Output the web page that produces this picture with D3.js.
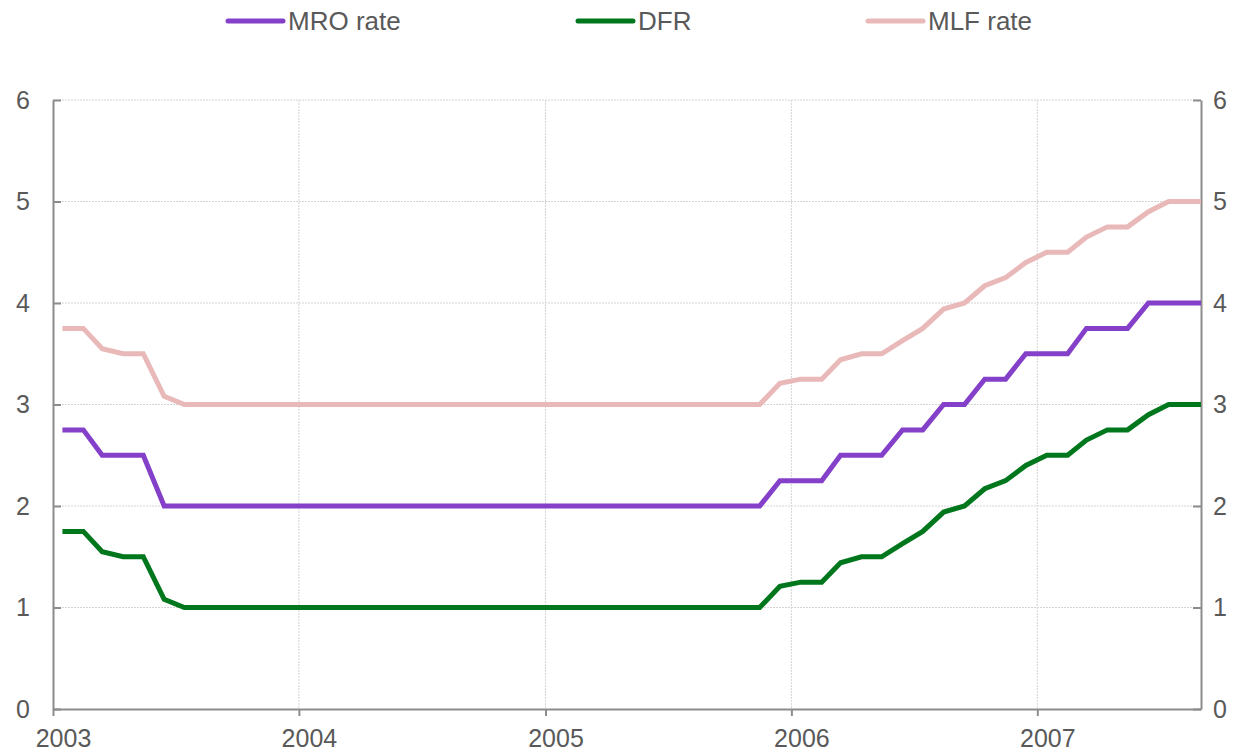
<!DOCTYPE html>
<html>
<head>
    <meta charset="utf-8">
    <title>ECB policy rates 2003-2007</title>
    <script src="https://d3js.org/d3.v7.min.js"></script>
    <style>
        body { margin: 0; padding: 0; background: #fff; }
        text { font-family: "Liberation Sans", Arial, sans-serif; fill: #595959; }
    </style>
</head>
<body>
    <svg id="svg" width="1239" height="753"></svg>

    <script>
        // Monthly averages, Jan 2003 .. Sep 2007
        const firstMonth = "2003-01";
        const mroRate = [
            2.75, 2.75, 2.50, 2.50, 2.50, 2.00, 2.00, 2.00, 2.00, 2.00, 2.00, 2.00,
            2.00, 2.00, 2.00, 2.00, 2.00, 2.00, 2.00, 2.00, 2.00, 2.00, 2.00, 2.00,
            2.00, 2.00, 2.00, 2.00, 2.00, 2.00, 2.00, 2.00, 2.00, 2.00, 2.00, 2.25,
            2.25, 2.25, 2.50, 2.50, 2.50, 2.75, 2.75, 3.00, 3.00, 3.25, 3.25, 3.50,
            3.50, 3.50, 3.75, 3.75, 3.75, 4.00, 4.00, 4.00, 4.00
        ];
        const dfrRate = [
            1.75, 1.75, 1.55, 1.50, 1.50, 1.08, 1.00, 1.00, 1.00, 1.00, 1.00, 1.00,
            1.00, 1.00, 1.00, 1.00, 1.00, 1.00, 1.00, 1.00, 1.00, 1.00, 1.00, 1.00,
            1.00, 1.00, 1.00, 1.00, 1.00, 1.00, 1.00, 1.00, 1.00, 1.00, 1.00, 1.21,
            1.25, 1.25, 1.44, 1.50, 1.50, 1.63, 1.75, 1.94, 2.00, 2.17, 2.25, 2.40,
            2.50, 2.50, 2.65, 2.75, 2.75, 2.90, 3.00, 3.00, 3.00
        ];
        const mlfRate = [
            3.75, 3.75, 3.55, 3.50, 3.50, 3.08, 3.00, 3.00, 3.00, 3.00, 3.00, 3.00,
            3.00, 3.00, 3.00, 3.00, 3.00, 3.00, 3.00, 3.00, 3.00, 3.00, 3.00, 3.00,
            3.00, 3.00, 3.00, 3.00, 3.00, 3.00, 3.00, 3.00, 3.00, 3.00, 3.00, 3.21,
            3.25, 3.25, 3.44, 3.50, 3.50, 3.63, 3.75, 3.94, 4.00, 4.17, 4.25, 4.40,
            4.50, 4.50, 4.65, 4.75, 4.75, 4.90, 5.00, 5.00, 5.00
        ];
        const yearTicks = ["2003", "2004", "2005", "2006", "2007"];
        const yTicks = [0, 1, 2, 3, 4, 5, 6];

        const series = [
            { name: "MRO rate", values: mroRate, color: "#8440c9" },
            { name: "DFR", values: dfrRate, color: "#00771c" },
            { name: "MLF rate", values: mlfRate, color: "#e8b9b8" }
        ];

        const svg = d3.select("#svg");
        const margin = { top: 100, right: 38, bottom: 44, left: 53 };
        const width = +svg.attr("width") - margin.left - margin.right;
        const height = +svg.attr("height") - margin.top - margin.bottom;

        const parseMonth = d3.utcParse("%Y-%m");
        const start = parseMonth(firstMonth);
        // points sit in the middle of each month
        const dates = mroRate.map((_, i) => d3.utcDay.offset(d3.utcMonth.offset(start, i), 14));

        const x = d3.scaleUtc()
            .domain([start, new Date(Date.UTC(2007, 8, 1))])
            .range([0, width]);
        const y = d3.scaleLinear().domain([0, 6]).range([height, 0]);

        const g = svg.append("g")
            .attr("transform", `translate(${margin.left},${margin.top})`);

        g.append("defs").append("clipPath").attr("id", "plot")
            .append("rect").attr("width", width).attr("height", height);

        const yearDates = yearTicks.map(d => d3.utcParse("%Y")(d));

        // Grid lines
        g.append("g")
            .selectAll("line")
            .data(yTicks.slice(1))
            .join("line")
                .attr("x1", 0).attr("x2", width)
                .attr("y1", d => y(d)).attr("y2", d => y(d))
                .attr("stroke", "#d4d4d4")
                .attr("stroke-dasharray", "2,1");
        g.append("g")
            .selectAll("line")
            .data(yearDates.slice(1))
            .join("line")
                .attr("x1", d => x(d)).attr("x2", d => x(d))
                .attr("y1", 0).attr("y2", height)
                .attr("stroke", "#d4d4d4")
                .attr("stroke-dasharray", "2,1");

        // Axes
        const styleAxis = sel => {
            sel.select(".domain").attr("stroke", "#8c8c8c").attr("stroke-width", 2);
            sel.selectAll(".tick line").attr("stroke", "#8c8c8c").attr("stroke-width", 2);
            sel.selectAll(".tick text").attr("fill", "#595959")
                .attr("font-size", 25);
        };

        g.append("g")
            .attr("transform", `translate(0,${height})`)
            .call(d3.axisBottom(x).tickValues(yearDates).tickFormat(d3.utcFormat("%Y"))
                .tickSizeInner(7).tickSizeOuter(0).tickPadding(13))
            .call(styleAxis)
            .selectAll(".tick text").attr("dx", 10);

        g.append("g")
            .call(d3.axisLeft(y).tickValues(yTicks).tickFormat(d3.format("d"))
                .tickSizeInner(-8).tickSizeOuter(0).tickPadding(23))
            .call(styleAxis);

        g.append("g")
            .attr("transform", `translate(${width},0)`)
            .call(d3.axisRight(y).tickValues(yTicks).tickFormat(d3.format("d"))
                .tickSizeInner(-8).tickSizeOuter(0).tickPadding(12))
            .call(styleAxis);

        // Series lines
        const line = d3.line()
            .x((d, i) => x(dates[i]))
            .y(d => y(d));

        g.append("g")
            .attr("clip-path", "url(#plot)")
            .selectAll("path")
            .data(series.slice().reverse())
            .join("path")
                .attr("fill", "none")
                .attr("stroke", d => d.color)
                .attr("stroke-width", 5)
                .attr("stroke-linejoin", "miter")
                .attr("d", d => line(d.values));

        // Legend
        const legendX = [228, 578, 868];
        const legend = svg.append("g")
            .selectAll("g")
            .data(series)
            .join("g")
                .attr("transform", (d, i) => `translate(${legendX[i]},21)`);
        legend.append("line")
            .attr("x1", 0).attr("x2", 55)
            .attr("stroke", d => d.color)
            .attr("stroke-width", 5)
            .attr("stroke-linecap", "round");
        legend.append("text")
            .attr("x", 60)
            .attr("dy", "0.35em")
            .attr("font-size", 26)
            .text(d => d.name);
    </script>
</body>
</html>
